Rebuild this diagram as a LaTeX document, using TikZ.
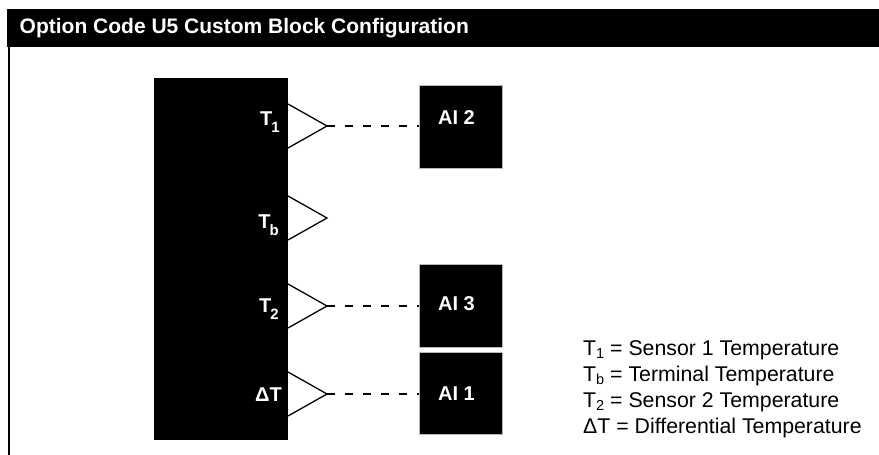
\documentclass[tikz,border=0pt]{standalone}
\usepackage{fontspec}
\setmainfont{Liberation Sans}
\usetikzlibrary{positioning}

\newcommand{\pinsub}[1]{\kern-1pt\raisebox{-7pt}{\fontsize{15}{15}\selectfont #1}}
\newcommand{\legsub}[1]{\raisebox{-3pt}{\fontsize{14.5}{14.5}\selectfont #1}}

\tikzset{
  aibox/.style={fill=black, draw=gray!55, line width=0.8pt, minimum width=83pt, minimum height=83pt, inner sep=0pt},
  pinlabel/.style={text=white, font=\fontsize{20}{20}\selectfont\bfseries, anchor=base east, inner sep=0pt},
  boxlabel/.style={text=white, font=\fontsize{20}{20}\selectfont\bfseries, anchor=base west, inner sep=0pt},
  pin/.style={fill=white, draw=black, line width=1.3pt, line join=miter},
  wire/.style={dash pattern=on 8pt off 10pt, line width=1.3pt},
  legend/.style={font=\fontsize{21.3}{21.3}\selectfont, anchor=base west, inner sep=0pt}
}

\begin{document}
\begin{tikzpicture}[x=1pt, y=-1pt]
    \useasboundingbox (0,0) rectangle (879,455);

    \fill (7,9) rectangle (879,47);
    \node[text=white, font=\fontsize{21}{21}\selectfont\bfseries, anchor=base west, inner sep=0pt]
        (title) at (19.5,34) {Option Code U5 Custom Block Configuration};
    \draw[line width=2pt] (8.8,47) -- (8.8,455);

    \node[fill=black, minimum width=134pt, minimum height=362pt, inner sep=0pt] (block) at (221,259) {};

    \coordinate (t1) at (327,126);
    \coordinate (tb) at (327,218);
    \coordinate (t2) at (327,306);
    \coordinate (dt) at (327,394);

    \filldraw[pin] (t1) ++(-39,-22) -- (t1) -- ++(-39,22);
    \filldraw[pin] (tb) ++(-39,-22) -- (tb) -- ++(-39,22);
    \filldraw[pin] (t2) ++(-39,-22) -- (t2) -- ++(-39,22);
    \filldraw[pin] (dt) ++(-39,-22) -- (dt) -- ++(-39,22);

    \node[pinlabel] (t1lbl) at (280,125) {T\pinsub{1}};
    \node[pinlabel] (tblbl) at (279,228) {T\pinsub{b}};
    \node[pinlabel] (t2lbl) at (279,312) {T\pinsub{2}};
    \node[pinlabel] (dtlbl) at (282,401) {ΔT};

    \node[aibox] (ai2) at (460.5,126.5) {};
    \node[aibox] (ai3) at (460.5,305.5) {};
    \node[aibox, minimum height=82pt] (ai1) at (460.5,393) {};

    \node[boxlabel] (ai2lbl) at (438,124) {AI 2};
    \node[boxlabel] (ai3lbl) at (438,310) {AI 3};
    \node[boxlabel] (ai1lbl) at (438,400) {AI 1};

    \draw[wire] (t1) -- (t1 -| ai2.west);
    \draw[wire] (t2) -- (t2 -| ai3.west);
    \draw[wire] (dt) -- (dt -| ai1.west);

    \node[legend] (leg1) at (583,355) {T\legsub{1} = Sensor 1 Temperature};
    \node[legend] (leg2) at (583,381) {T\legsub{b} = Terminal Temperature};
    \node[legend] (leg3) at (583,407) {T\legsub{2} = Sensor 2 Temperature};
    \node[legend] (leg4) at (583,433) {ΔT = Differential Temperature};
\end{tikzpicture}
\end{document}
